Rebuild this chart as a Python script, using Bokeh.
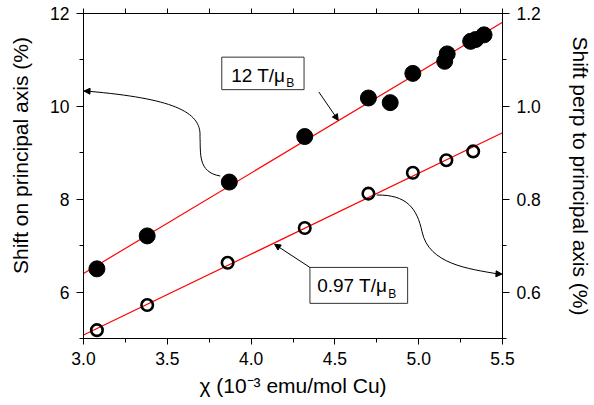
from bokeh.plotting import figure
from bokeh.models import (Range1d, LinearAxis, FixedTicker, Arrow, NormalHead,
                          NumeralTickFormatter)
from bokeh.core.properties import value
from bokeh.embed import file_html
from bokeh.resources import INLINE

# susceptibility (10^-3 emu/mol Cu)
chi_main = [3.08, 3.38, 3.87, 4.32, 4.70, 4.83, 4.965, 5.155, 5.17, 5.31, 5.34, 5.39]
# shift along the principal axis (%), left scale
shift_main = [6.50, 7.21, 8.37, 9.35, 10.18, 10.08, 10.71, 10.97, 11.13, 11.40, 11.44, 11.54]

chi_perp = [3.08, 3.38, 3.86, 4.32, 4.70, 4.965, 5.165, 5.325]
# shift perpendicular to the principal axis (%), right scale
shift_perp = [0.518, 0.572, 0.663, 0.738, 0.812, 0.857, 0.884, 0.903]

# linear fits (end points over the plotted range)
fit_x = [3.0, 5.5]
fit_main = [6.40, 11.81]
fit_perp = [0.5075, 0.943]

x_ticks = [3.0, 3.5, 4.0, 4.5, 5.0, 5.5]
x_minor = [3.25, 3.75, 4.25, 4.75, 5.25]
top_ticks = [3.0, 3.25, 3.5, 3.75, 4.0, 4.25, 4.5, 4.75, 5.0, 5.25, 5.5]
left_ticks = [6, 8, 10, 12]
left_minor = [5, 7, 9, 11]
right_ticks = [0.6, 0.8, 1.0, 1.2]
right_minor = [0.5, 0.7, 0.9, 1.1]

FONT = "Liberation Sans"

p = figure(width=594, height=405, output_backend="svg", toolbar_location=None,
           x_axis_type=None, y_axis_type=None,
           x_range=Range1d(3.0, 5.5), y_range=Range1d(5.0, 12.0),
           min_border_left=83, min_border_right=86,
           min_border_top=13, min_border_bottom=67)
p.extra_y_ranges = {"perp": Range1d(0.5, 1.2)}
p.xgrid.visible = False
p.ygrid.visible = False
p.outline_line_color = "black"
p.outline_line_width = 1
p.background_fill_color = "white"
p.border_fill_color = "white"


def style(ax, label_size="17.5px"):
    ax.axis_line_color = "black"
    ax.major_tick_line_color = "black"
    ax.minor_tick_line_color = "black"
    ax.major_tick_in = 0
    ax.minor_tick_in = 0
    ax.major_tick_out = 7
    ax.minor_tick_out = 4
    ax.major_label_text_font = FONT
    ax.major_label_text_font_size = label_size
    ax.major_label_text_color = "black"
    ax.major_label_standoff = 7
    ax.axis_label_text_font = FONT
    ax.axis_label_text_font_size = "21px"
    ax.axis_label_text_font_style = "normal"
    ax.axis_label_text_color = "black"


bottom = LinearAxis(ticker=FixedTicker(ticks=x_ticks, minor_ticks=x_minor),
                    formatter=NumeralTickFormatter(format="0.0"),
                    axis_label="χ (10⁻³ emu/mol Cu)")
style(bottom)
bottom.major_tick_out = 6
bottom.axis_label_standoff = 6
p.add_layout(bottom, "below")

top = LinearAxis(ticker=FixedTicker(ticks=top_ticks))
style(top)
top.major_tick_out = 5
top.major_label_text_color = None
top.major_label_text_font_size = "0px"
top.major_label_standoff = 0
p.add_layout(top, "above")

# leading no-break spaces lift the title a little above the frame centre
left = LinearAxis(ticker=FixedTicker(ticks=left_ticks, minor_ticks=left_minor),
                  formatter=NumeralTickFormatter(format="0"),
                  axis_label="\u00a0" * 7 + "Shift on principal axis (%)")
style(left)
left.axis_label_standoff = 15
p.add_layout(left, "left")

right = LinearAxis(y_range_name="perp",
                   ticker=FixedTicker(ticks=right_ticks, minor_ticks=right_minor),
                   formatter=NumeralTickFormatter(format="0.0"),
                   axis_label="Shift perp to principal axis (%)")
style(right)
right.axis_label_standoff = 25
p.add_layout(right, "right")

# fit lines
p.line(fit_x, fit_main, line_color="#ff0000", line_width=1.2)
p.line(fit_x, fit_perp, line_color="#ff0000", line_width=1.2, y_range_name="perp")

# data
p.scatter(chi_main, shift_main, size=16, fill_color="black", line_color="black")
p.scatter(chi_perp, shift_perp, size=11.5, fill_color=None, line_color="black",
          line_width=2.6, y_range_name="perp")

# curved pointers to each scale
p.bezier(x0=[3.816, 3.695], y0=[8.50, 9.35], x1=[3.695, 3.03], y1=[9.35, 10.325],
         cx0=[3.68, 3.705], cy0=[8.58, 9.90], cx1=[3.70, 3.52], cy1=[9.00, 10.17],
         line_color="black", line_width=1)
p.add_layout(Arrow(end=NormalHead(size=6, fill_color="black", line_color="black"),
                   x_start=3.04, y_start=10.326, x_end=3.003, y_end=10.33,
                   line_color="black", line_width=1))

p.bezier(x0=[4.75, 5.02], y0=[0.809, 0.73], x1=[5.02, 5.47], y1=[0.73, 0.6392],
         cx0=[4.93, 5.06], cy0=[0.81, 0.66], cx1=[4.99, 5.30], cy1=[0.78, 0.65],
         line_color="black", line_width=1, y_range_name="perp")
p.add_layout(Arrow(end=NormalHead(size=6, fill_color="black", line_color="black"),
                   x_start=5.46, y_start=0.6394, x_end=5.497, y_end=0.6387,
                   line_color="black", line_width=1, y_range_name="perp"))

# labelled boxes with straight pointers to the fits
p.add_layout(Arrow(end=NormalHead(size=6, fill_color="black", line_color="black"),
                   x_start=4.404, y_start=10.31, x_end=4.52, y_end=9.70,
                   line_color="black", line_width=1))
p.add_layout(Arrow(end=NormalHead(size=6, fill_color="black", line_color="black"),
                   x_start=4.351, y_start=6.531, x_end=4.14, y_end=7.03,
                   line_color="black", line_width=1))

p.quad(left=[3.825, 4.351], right=[4.316, 4.934], bottom=[10.36, 5.757],
       top=[11.06, 6.531], fill_color="white", line_color="#333333", line_width=1)

p.text(x=[3.881], y=[10.667], text=["12 T/μ"], text_font=value(FONT),
       text_font_size="19px", text_color="black", text_baseline="middle",
       text_align="left")
p.text(x=[3.881], y=[10.667], text=["B"], text_font=value(FONT),
       text_font_size="12px", text_color="black", text_baseline="middle",
       text_align="left", x_offset=55, y_offset=8)

p.text(x=[4.394], y=[6.14], text=["0.97 T/μ"], text_font=value(FONT),
       text_font_size="19px", text_color="black", text_baseline="middle",
       text_align="left")
p.text(x=[4.394], y=[6.14], text=["B"], text_font=value(FONT),
       text_font_size="12px", text_color="black", text_baseline="middle",
       text_align="left", x_offset=71, y_offset=8)

open("out.html", "w").write(file_html(p, INLINE))
